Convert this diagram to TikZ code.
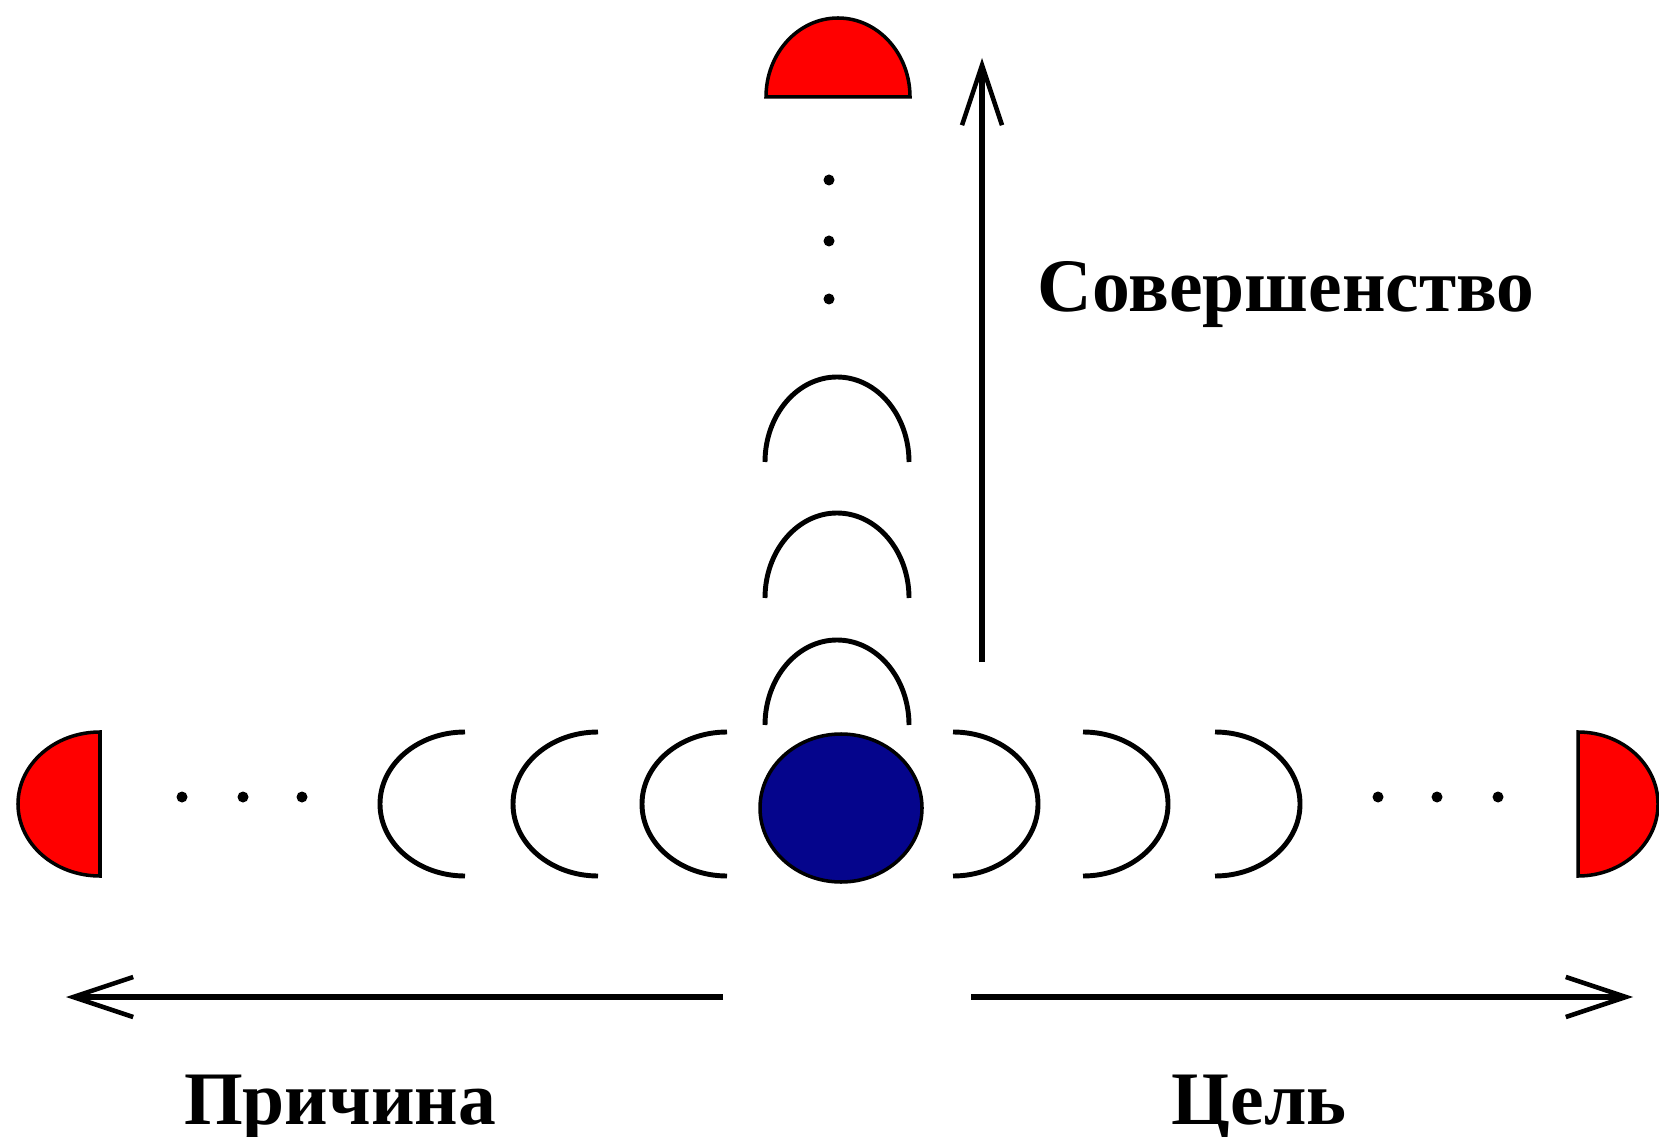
\documentclass[tikz,border=0pt]{standalone}
\usepackage{fontspec}
\setmainfont{Liberation Serif}
\usetikzlibrary{arrows.meta}
\definecolor{halfred}{rgb}{1, 0, 0}
\definecolor{coreblue}{rgb}{0.02, 0.02, 0.55}
\tikzset{
  shell/.style={line width=1.4pt},
  halfdisk/.style={fill=halfred,draw=black,line width=1pt},
  axisarrow/.style={line width=1.5pt,-{Straight Barb[length=6mm,width=4mm,line width=1.3pt]}},
  label/.style={font=\fontsize{21.5}{24}\selectfont\bfseries,anchor=base}
}
\begin{document}
\begin{tikzpicture}[x=0.1mm,y=0.1mm]
\useasboundingbox (0,0) rectangle (1659,1136);
% centre
\draw[fill=coreblue,line width=1pt] (841,328) ellipse [x radius=81,y radius=74];
% shells to the left, right and up
\foreach \x in {465,598,727} {
  \draw[shell] (\x,404) arc[start angle=90,end angle=270,x radius=85,y radius=72];
}
\foreach \x in {953,1083,1215} {
  \draw[shell] (\x,404) arc[start angle=90,end angle=-90,x radius=85,y radius=72];
}
\foreach \y in {411,538,674} {
  \draw[shell] (909,\y) arc[start angle=0,end angle=180,x radius=72,y radius=85];
}
% dots
\foreach \x in {182,243,302,1378,1437,1498} {
  \fill (\x,339) circle (5.5);
}
\foreach \y in {837,895,956} {
  \fill (829,\y) circle (5.5);
}
% last ones
\draw[halfdisk] (100,404) arc[start angle=90,end angle=270,x radius=82,y radius=72] -- cycle;
\draw[halfdisk] (1578,404) arc[start angle=90,end angle=-90,x radius=80,y radius=72] -- cycle;
\draw[halfdisk] (910,1039) arc[start angle=0,end angle=180,x radius=72,y radius=79] -- cycle;
% arrows
\coordinate (upfoot) at (982,474);
\coordinate (uphead) at (982,1078);
\coordinate (leftfoot) at (723,139);
\coordinate (lefthead) at (66,139);
\coordinate (rightfoot) at (971,139);
\coordinate (righthead) at (1633,139);
\draw[axisarrow] (upfoot) -- (uphead);
\draw[axisarrow] (leftfoot) -- (lefthead);
\draw[axisarrow] (rightfoot) -- (righthead);
\node[label] (perfection) at (1286,824) {Совершенство};
\node[label] (cause) at (340,12) {Причина};
\node[label] (goal) at (1259,12) {Цель};
\end{tikzpicture}
\end{document}
